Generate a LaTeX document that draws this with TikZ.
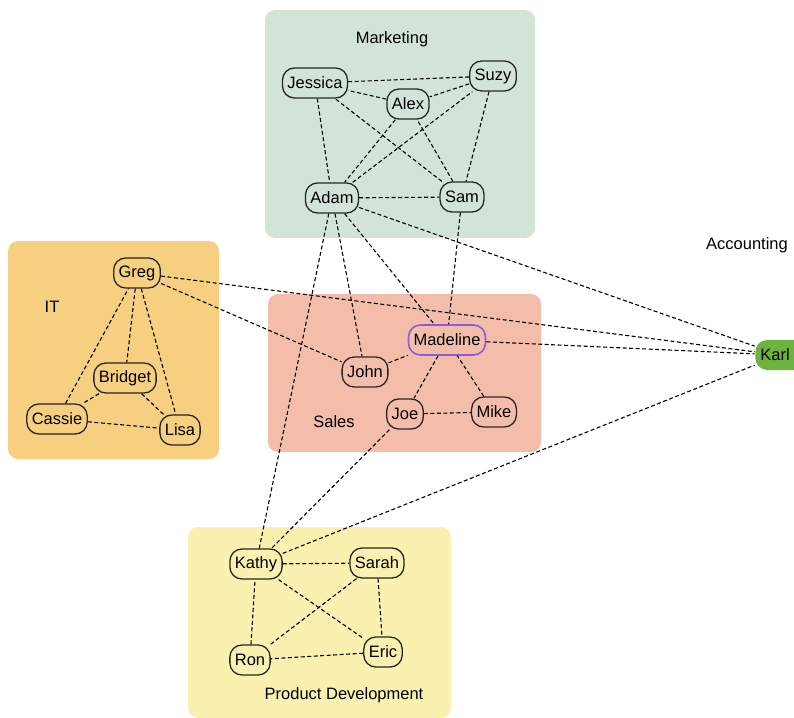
\documentclass[tikz,border=0pt]{standalone}
\usepackage{fontspec}
\setmainfont{Liberation Sans}
\definecolor{mktfill}{HTML}{D2E4D7}
\definecolor{itfill}{HTML}{F7CF80}
\definecolor{salesfill}{HTML}{F4BDAA}
\definecolor{pdfill}{HTML}{FAF1B1}
\definecolor{karlfill}{HTML}{6DB33F}
\definecolor{madborder}{HTML}{8A5CDB}
\begin{document}
\begin{tikzpicture}[x=1pt,y=-1pt,
  every node/.style={font=\fontsize{16.5}{19}\selectfont},
  person/.style={draw=black!85,line width=1.3pt,rounded corners=12pt,minimum height=30pt,inner xsep=5pt},
  team/.style={rounded corners=10pt},
  link/.style={dash pattern=on 4pt off 2.5pt,line width=1.1pt}]
\useasboundingbox (0,0) rectangle (794,717);

% departments
\fill[team,mktfill] (265,10) rectangle (535,238);
\fill[team,itfill] (8,241) rectangle (219,459);
\fill[team,salesfill] (268,294) rectangle (541,452);
\fill[team,pdfill] (188,527) rectangle (451,718);
\node (mktlabel) at (392,39) {Marketing};
\node (itlabel) at (52,307) {IT};
\node (saleslabel) at (334,422) {Sales};
\node (pdlabel) at (344,695) {Product Development};
\node (acclabel) at (747,245) {Accounting};

% people
\node[person] (Jessica) at (315,83) {Jessica};
\node[person] (Suzy) at (493,76) {Suzy};
\node[person] (Alex) at (408,104) {Alex};
\node[person] (Adam) at (332,198) {Adam};
\node[person] (Sam) at (462,197) {Sam};

\node[person] (Greg) at (137,273) {Greg};
\node[person] (Bridget) at (125,378) {Bridget};
\node[person] (Cassie) at (57,419) {Cassie};
\node[person] (Lisa) at (180,430) {Lisa};

\node[person,draw=madborder,line width=1.6pt] (Madeline) at (447,340) {Madeline};
\node[person] (John) at (365,372) {John};
\node[person] (Joe) at (405,414) {Joe};
\node[person] (Mike) at (494,412) {Mike};

\node[person] (Kathy) at (256,564) {Kathy};
\node[person] (Sarah) at (377,563) {Sarah};
\node[person] (Ron) at (250,660) {Ron};
\node[person] (Eric) at (383,652) {Eric};

\node[person,draw=none,fill=karlfill,minimum width=44pt,align=left] (Karl) at (780,355) {Karl\hspace{10pt}};

% links
\draw[link] (Jessica) -- (Suzy) -- (Alex) -- (Jessica) -- (Adam) -- (Sam) -- (Jessica);
\draw[link] (Alex) -- (Adam) -- (Suzy) -- (Sam) -- (Alex);
\draw[link] (Adam) -- (Kathy);
\draw[link] (Adam) -- (John);
\draw[link] (Adam) -- (Madeline);
\draw[link] (Adam) -- (Karl);
\draw[link] (Sam) -- (Madeline);
\draw[link] (Greg) -- (Bridget) -- (Cassie) -- (Greg) -- (Lisa) -- (Bridget);
\draw[link] (Cassie) -- (Lisa);
\draw[link] (Greg) -- (Karl);
\draw[link] (Greg) -- (John) -- (Madeline) -- (Karl);
\draw[link] (Madeline) -- (Joe) -- (Mike) -- (Madeline);
\draw[link] (Joe) -- (Kathy) -- (Karl);
\draw[link] (Kathy) -- (Sarah) -- (Eric) -- (Ron) -- (Kathy) -- (Eric);
\draw[link] (Sarah) -- (Ron);
\end{tikzpicture}
\end{document}
